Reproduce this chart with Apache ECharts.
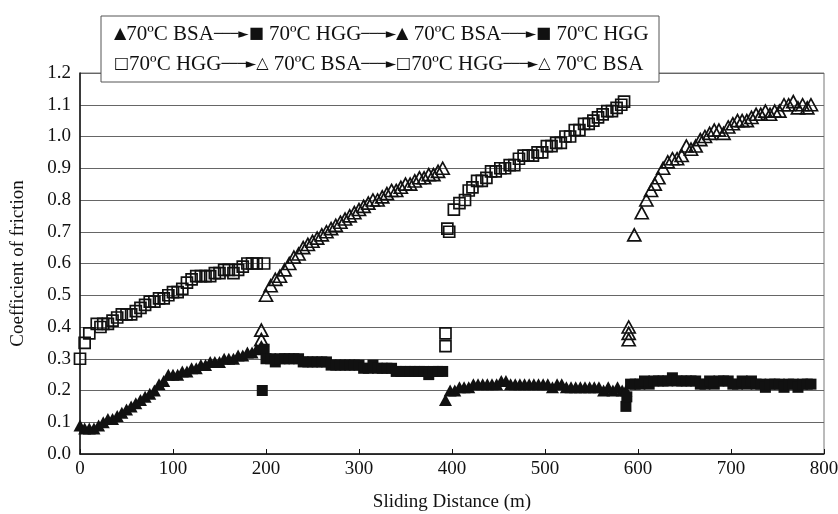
<!DOCTYPE html>
<html>
<head>
<meta charset="utf-8">
<script src="https://cdn.jsdelivr.net/npm/echarts@6/dist/echarts.min.js"></script>
<style>html,body{margin:0;padding:0;background:#fff}#c{width:838px;height:514px}</style>
</head>
<body>
<div id="c"></div>
<script>
// ---- data: [sliding distance (m), coefficient of friction] ----
// filled triangles: 70ºC BSA (runs 1 and 3)
const bsaFilledRun1 = [[0,0.09],[5,0.08],[10,0.08],[15,0.08],[20,0.09],[25,0.10],[30,0.11],[35,0.11],[40,0.12],[45,0.13],[50,0.14],[55,0.15],[60,0.16],[65,0.17],[70,0.18],[75,0.19],[80,0.20],[85,0.22],[90,0.23],[95,0.25],[100,0.25],[105,0.25],[110,0.26],[115,0.26],[120,0.27],[125,0.27],[130,0.28],[135,0.28],[140,0.29],[145,0.29],[150,0.29],[155,0.30],[160,0.30],[165,0.30],[170,0.31],[175,0.31],[180,0.32],[185,0.32],[190,0.33],[195,0.34]];
const bsaFilledRun3 = [[393,0.17],[398,0.20],[403,0.20],[408,0.21],[413,0.21],[418,0.21],[423,0.22],[428,0.22],[433,0.22],[438,0.22],[443,0.22],[448,0.22],[453,0.23],[458,0.23],[463,0.22],[468,0.22],[473,0.22],[478,0.22],[483,0.22],[488,0.22],[493,0.22],[498,0.22],[503,0.22],[508,0.21],[513,0.22],[518,0.22],[523,0.21],[528,0.21],[533,0.21],[538,0.21],[543,0.21],[548,0.21],[553,0.21],[558,0.21],[563,0.20],[568,0.21],[573,0.20],[578,0.21],[583,0.20],[587,0.20]];
// filled squares: 70ºC HGG (runs 2 and 4)
const hggFilledRun2 = [[196,0.20],[198,0.33],[200,0.30],[205,0.30],[210,0.29],[215,0.30],[220,0.30],[225,0.30],[230,0.30],[235,0.30],[240,0.29],[245,0.29],[250,0.29],[255,0.29],[260,0.29],[265,0.29],[270,0.28],[275,0.28],[280,0.28],[285,0.28],[290,0.28],[295,0.28],[300,0.28],[305,0.27],[310,0.27],[315,0.28],[320,0.27],[325,0.27],[330,0.27],[335,0.27],[340,0.26],[345,0.26],[350,0.26],[355,0.26],[360,0.26],[365,0.26],[370,0.26],[375,0.25],[380,0.26],[385,0.26],[390,0.26]];
const hggFilledRun4 = [[587,0.15],[588,0.18],[592,0.22],[597,0.22],[602,0.22],[607,0.23],[612,0.22],[617,0.23],[622,0.23],[627,0.23],[632,0.23],[637,0.24],[642,0.23],[647,0.23],[652,0.23],[657,0.23],[662,0.23],[667,0.22],[672,0.22],[677,0.23],[682,0.22],[687,0.23],[692,0.23],[697,0.23],[702,0.22],[707,0.22],[712,0.23],[717,0.22],[722,0.23],[727,0.22],[732,0.22],[737,0.21],[742,0.22],[747,0.22],[752,0.22],[757,0.21],[762,0.22],[767,0.22],[772,0.21],[777,0.22],[782,0.22],[786,0.22]];
// open squares: 70ºC HGG (runs 1 and 3)
const hggOpenRun1 = [[0,0.30],[5,0.35],[10,0.38],[18,0.41],[22,0.40],[25,0.41],[30,0.41],[35,0.42],[40,0.43],[45,0.44],[50,0.44],[55,0.44],[60,0.45],[65,0.46],[70,0.47],[75,0.48],[80,0.48],[85,0.49],[90,0.49],[95,0.50],[100,0.51],[105,0.51],[110,0.52],[115,0.54],[120,0.55],[125,0.56],[130,0.56],[135,0.56],[140,0.56],[145,0.57],[150,0.57],[155,0.58],[160,0.58],[165,0.57],[170,0.58],[175,0.59],[180,0.60],[185,0.60],[190,0.60],[198,0.60]];
const hggOpenRun3 = [[393,0.38],[393,0.34],[395,0.71],[397,0.70],[402,0.77],[408,0.79],[414,0.80],[418,0.83],[422,0.84],[427,0.86],[432,0.86],[437,0.87],[442,0.89],[447,0.89],[452,0.90],[457,0.90],[462,0.91],[467,0.91],[472,0.93],[477,0.94],[482,0.94],[487,0.94],[492,0.95],[497,0.95],[502,0.97],[507,0.97],[512,0.98],[517,0.98],[522,1.00],[527,1.00],[532,1.02],[537,1.02],[542,1.04],[547,1.04],[552,1.05],[557,1.06],[562,1.07],[567,1.08],[572,1.08],[577,1.09],[582,1.10],[585,1.11]];
// open triangles: 70ºC BSA (runs 2 and 4)
const bsaOpenRun2 = [[195,0.39],[195,0.36],[200,0.50],[205,0.53],[210,0.55],[215,0.56],[220,0.58],[225,0.60],[230,0.62],[235,0.63],[240,0.65],[245,0.66],[250,0.67],[255,0.68],[260,0.69],[265,0.70],[270,0.71],[275,0.72],[280,0.73],[285,0.74],[290,0.75],[295,0.76],[300,0.77],[305,0.78],[310,0.79],[315,0.80],[320,0.80],[325,0.81],[330,0.82],[335,0.83],[340,0.83],[345,0.84],[350,0.85],[355,0.85],[360,0.86],[365,0.87],[370,0.87],[375,0.88],[380,0.88],[385,0.89],[390,0.90]];
const bsaOpenRun4 = [[590,0.40],[590,0.38],[590,0.36],[596,0.69],[604,0.76],[609,0.80],[614,0.83],[618,0.85],[622,0.87],[627,0.90],[632,0.92],[637,0.93],[642,0.93],[647,0.94],[652,0.97],[657,0.96],[662,0.97],[667,0.99],[672,1.00],[677,1.01],[682,1.02],[687,1.02],[692,1.01],[697,1.03],[702,1.04],[707,1.05],[712,1.05],[717,1.05],[722,1.06],[727,1.07],[732,1.07],[737,1.08],[742,1.07],[747,1.08],[752,1.08],[757,1.10],[762,1.10],[767,1.11],[772,1.09],[777,1.10],[782,1.09],[786,1.10]];

// legend rows: [symbol, label] pairs joined by arrows
const legendRow1 = [['▲', '70ºC BSA'], ['■', ' 70ºC HGG'], ['▲', ' 70ºC BSA'], ['■', ' 70ºC HGG']];
const legendRow2 = [['□', '70ºC HGG'], ['△', ' 70ºC BSA'], ['□', '70ºC HGG'], ['△', ' 70ºC BSA']];
const xAxisTitle = 'Sliding Distance (m)';
const yAxisTitle = 'Coefficient of friction';

const FONT = '"Liberation Serif", "Times New Roman", serif';
const INK = '#111';

function richRow(row) {
  return row.map(([s, t]) => '{s|' + s + '}{t|' + t + '}').join('{a|───►}');
}
const richStyles = {
  s: { fontFamily: '"DejaVu Sans"', fontSize: 16, fill: INK },
  t: { fontFamily: FONT, fontSize: 21, fill: INK },
  a: { fontFamily: '"DejaVu Sans"', fontSize: 13.5, fill: INK }
};

function filled(name, symbol, size, data) {
  return { type: 'scatter', name, symbol, symbolSize: size, data,
    itemStyle: { color: INK, opacity: 1 }, z: 3 };
}
function open(name, symbol, size, data) {
  return { type: 'scatter', name, symbol, symbolSize: size, data,
    itemStyle: { color: 'rgba(0,0,0,0)', borderColor: INK, borderWidth: 1.7, opacity: 1 }, z: 4 };
}

const chart = echarts.init(document.getElementById('c'));
chart.setOption({
  animation: false,
  backgroundColor: '#fff',
  grid: { left: 80, right: 14, top: 73, bottom: 60, outerBoundsMode: 'none', containLabel: false,
    show: true, borderColor: '#777', borderWidth: 1, backgroundColor: 'transparent' },
  xAxis: {
    type: 'value', min: 0, max: 800, interval: 100,
    name: xAxisTitle, nameLocation: 'middle', nameGap: 39,
    nameTextStyle: { fontFamily: FONT, fontSize: 19, color: INK },
    axisLine: { lineStyle: { color: INK, width: 1.5 } },
    axisTick: { inside: true, length: 5, lineStyle: { color: INK } },
    axisLabel: { fontFamily: FONT, fontSize: 19, color: INK, margin: 6 },
    splitLine: { show: false }
  },
  yAxis: {
    type: 'value', min: 0, max: 1.2, interval: 0.1,
    name: yAxisTitle, nameLocation: 'middle', nameGap: 52,
    nameTextStyle: { fontFamily: FONT, fontSize: 19, color: INK },
    axisLine: { show: true, lineStyle: { color: INK, width: 1.5 } },
    axisTick: { show: false },
    axisLabel: { fontFamily: FONT, fontSize: 19, color: INK, margin: 9, formatter: v => v.toFixed(1) },
    splitLine: { show: true, lineStyle: { color: '#666', width: 1 } }
  },
  series: [
    filled('70ºC BSA', 'triangle', [13, 12], bsaFilledRun1),
    filled('70ºC BSA', 'triangle', [13, 12], bsaFilledRun3),
    filled('70ºC HGG', 'rect', [11, 11], hggFilledRun2),
    filled('70ºC HGG', 'rect', [11, 11], hggFilledRun4),
    open('70ºC HGG', 'rect', [11, 11], hggOpenRun1),
    open('70ºC HGG', 'rect', [11, 11], hggOpenRun3),
    open('70ºC BSA', 'triangle', [13, 12], bsaOpenRun2),
    open('70ºC BSA', 'triangle', [13, 12], bsaOpenRun4)
  ],
  graphic: [
    { type: 'rect', shape: { x: 101, y: 16, width: 558, height: 66 }, z: 10,
      style: { fill: '#fff', stroke: '#555', lineWidth: 1 } },
    { type: 'text', x: 114, y: 34, z: 11,
      style: { text: richRow(legendRow1), rich: richStyles, fill: INK, verticalAlign: 'middle' } },
    { type: 'text', x: 114, y: 64, z: 11,
      style: { text: richRow(legendRow2), rich: richStyles, fill: INK, verticalAlign: 'middle' } }
  ]
});
</script>
</body>
</html>
